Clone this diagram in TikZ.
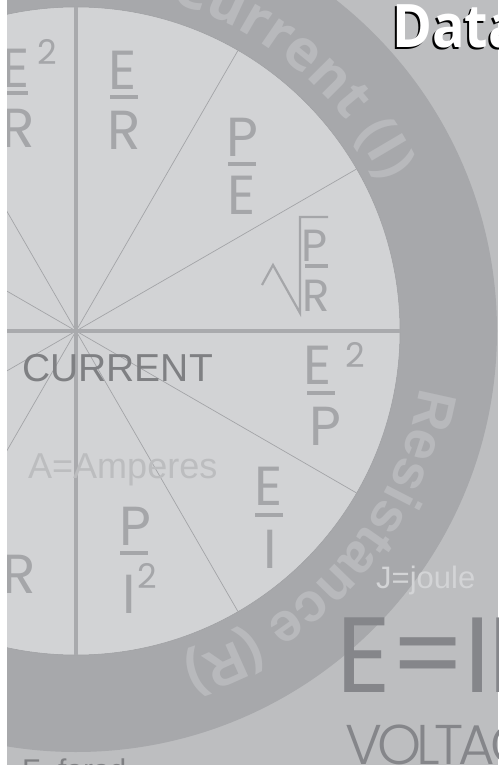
\documentclass[tikz,border=0pt]{standalone}
\usepackage{fontspec}
\setmainfont{Liberation Sans}
\newfontfamily\geofont{Poppins}
\newfontfamily\geotight{Poppins}[LetterSpace=-2]
\newfontfamily\geolight{Poppins Light}[LetterSpace=-9]
\newfontfamily\headfont{Open Sans}
\usetikzlibrary{decorations.text}

\definecolor{pagegray}{HTML}{BDBEC0}
\definecolor{ringgray}{HTML}{A7A8AB}
\definecolor{diskgray}{HTML}{D2D3D5}
\definecolor{diskedge}{HTML}{9D9EA1}
\definecolor{inkgray}{HTML}{A5A6A9}
\definecolor{spokegray}{HTML}{A3A4A7}
\definecolor{axisgray}{HTML}{A9AAAD}
\definecolor{darkink}{HTML}{7F8083}
\definecolor{ampgray}{HTML}{BCBDBF}
\definecolor{joulegray}{HTML}{D3D4D6}
\definecolor{ringtext}{HTML}{B8B9BC}
\definecolor{lawgray}{HTML}{85868A}

\begin{document}
\begin{tikzpicture}[x=1pt,y=1pt,
  frm/.style={font=\geofont\fontsize{55}{55}\selectfont,text=inkgray,inner sep=0pt,anchor=base},
  smallfrm/.style={frm,font=\geofont\fontsize{45}{45}\selectfont},
  supr/.style={font=\geofont\fontsize{34}{34}\selectfont,text=inkgray,inner sep=0pt,anchor=base west},
  fbar/.style={draw=inkgray,line width=3.2},
  radical/.style={draw=inkgray,line width=2.2},
  spoke/.style={draw=spokegray,line width=0.7},
  axis/.style={draw=axisgray,line width=4},
  ringaxis/.style={draw=diskedge,line width=0.6,double=ringgray,double distance=3.4},
  lbl/.style={inner sep=0pt,anchor=base west}
]
  \useasboundingbox (-76,-434) rectangle (422,331);
  \clip (-76,-434) rectangle (422,331);
  \fill[pagegray] (-76,-434) rectangle (422,331);

  % the wheel
  \coordinate (hub) at (0,0);
  \fill[ringgray] (hub) circle[radius=421];
  \draw[ringaxis] (0,-421) -- (0,421);
  \draw[ringaxis] (-421,0) -- (421,0);
  \filldraw[fill=diskgray,draw=diskedge,line width=0.5] (hub) circle[radius=324];
  \foreach \a in {30,60,120,150,210,240,300,330}
    \draw[spoke] (hub) -- (\a:324);
  \draw[axis] (0,-324) -- (0,324);
  \draw[axis] (-324,0) -- (324,0);

  \path[decorate,decoration={text along path,text align=center,text color=ringtext,
    text={|\headfont\bfseries\fontsize{56}{56}\selectfont|Current (I)}}]
    (90:342) arc[start angle=90,end angle=10,radius=342];
  \path[decorate,decoration={text along path,text align=center,text color=ringtext,
    text={|\bfseries\fontsize{55}{55}\selectfont|Resistance (R)}}]
    (4.3:348) arc[start angle=4.3,end angle=-85.7,radius=348];

  % current quadrant
  \node[frm] (erNum) at (47,241) {E};
  \draw[fbar] (34,234) -- (62,234);
  \node[frm] (erDen) at (48,181) {R};

  \node[frm] (peNum) at (166,174) {P};
  \draw[fbar] (152,167) -- (180,167);
  \node[frm] (peDen) at (166,116) {E};

  \node[smallfrm] (prNum) at (239,69) {P};
  \draw[fbar] (229,65) -- (252,65);
  \node[smallfrm] (prDen) at (240,19) {R};
  \draw[radical] (186,46) -- (197,66) -- (224,18) -- (224,114) -- (252,114);

  % resistance quadrant
  \node[frm] (epNum) at (242,-54) {E};
  \node[supr] (epSq) at (269,-37) {2};
  \draw[fbar] (231,-62) -- (259,-62);
  \node[frm] (epDen) at (249,-114) {P};

  \node[frm] (eiNum) at (193,-174) {E};
  \draw[fbar] (179,-184) -- (207,-184);
  \node[frm] (eiDen) at (194,-237) {I};

  \node[frm] (piNum) at (59,-214) {P};
  \draw[fbar] (44,-222) -- (72,-222);
  \node[frm] (piDen) at (53,-282) {I};
  \node[supr] (piSq) at (61,-257) {2};

  % power and voltage quadrants, cut by the page edge
  \node[frm] (erqNum) at (-60,243) {E};
  \node[supr] (erqSq) at (-39,266) {2};
  \draw[fbar] (-76,238) -- (-48,238);
  \node[frm] (erqDen) at (-58,183) {R};
  \node[frm] (irDen) at (-57,-262) {R};

  % labels
  \node[lbl,text=darkink,font=\fontsize{39}{39}\selectfont] (current) at (-54,-51) {CURRENT};
  \node[lbl,text=ampgray,font=\fontsize{36}{36}\selectfont] (amps) at (-48,-147) {A=Amperes};
  \node[lbl,text=joulegray,font=\fontsize{31}{31}\selectfont] (joule) at (300,-257) {J=joule};
  \node[lbl,text=darkink,font=\fontsize{30}{30}\selectfont] (farad) at (-54,-449) {F=farad};
  \node[lbl,text=lawgray,font=\geotight\fontsize{107}{107}\selectfont] (law) at (260,-361) {E=IR};
  \node[lbl,text=lawgray,font=\geolight\fontsize{56}{56}\selectfont] (volt) at (269,-433) {VOLTAGE};
  \node[lbl,text=black,font=\headfont\bfseries\fontsize{60}{60}\selectfont] (dataShadow) at (314,281) {\scalebox{0.9}[1]{Data}};
  \node[lbl,text=white,font=\headfont\bfseries\fontsize{60}{60}\selectfont] (data) at (316,283) {\scalebox{0.9}[1]{Data}};

  \fill[white] (-76,-434) rectangle (-69,331);
\end{tikzpicture}
\end{document}
